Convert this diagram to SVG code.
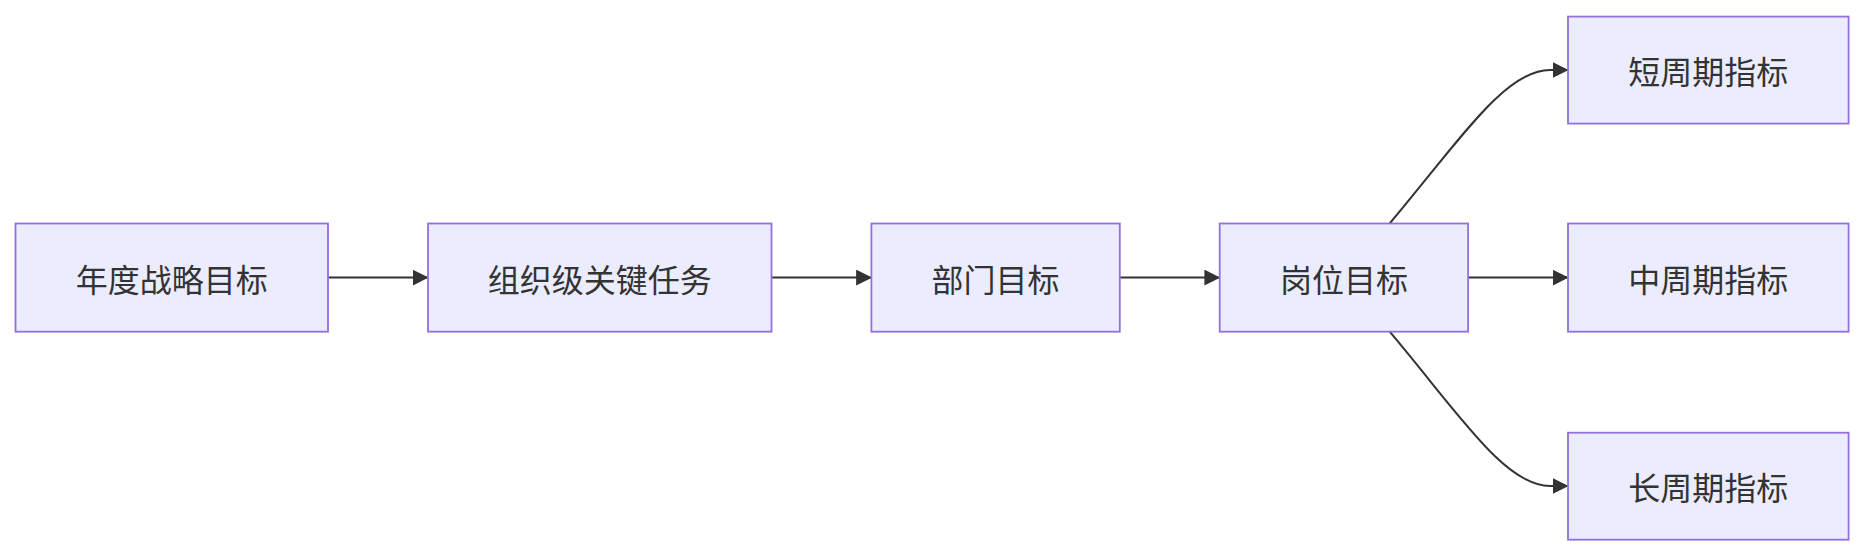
<svg xmlns="http://www.w3.org/2000/svg" width="1864" height="556" viewBox="0 0 1864 556">
<style>
.n rect{fill:#ECECFF;stroke:#9370DB;stroke-width:1.8}
.n text{font-family:"Noto Sans CJK SC","Liberation Sans",sans-serif;font-size:32px;fill:#333;text-anchor:middle;dominant-baseline:central}
.e path{fill:none;stroke:#333;stroke-width:2;marker-end:url(#ah)}
</style>
<defs><marker id="ah" viewBox="0 0 10 10" refX="9" refY="5" markerWidth="16" markerHeight="16" markerUnits="userSpaceOnUse" orient="auto"><path d="M0,0L10,5L0,10z" fill="#333"/></marker></defs>
<rect width="1864" height="556" fill="#fff"/>
<g id="edges" class="e">
<path d="M328,277.6H427"/>
<path d="M771.5,277.6H870.5"/>
<path d="M1119.8,277.6H1218.8"/>
<path d="M1468.1,277.6H1567"/>
<path d="M1389.7,223.5C1460,140 1505,70 1550,70H1567"/>
<path d="M1389.7,331.7C1460,415 1505,486 1550,486H1567"/>
</g>
<g id="n1" class="n"><rect x="15.5" y="223.5" width="312.5" height="108.2"/><text x="171.7" y="277.6">年度战略目标</text></g>
<g id="n2" class="n"><rect x="428" y="223.5" width="343.5" height="108.2"/><text x="599.7" y="277.6">组织级关键任务</text></g>
<g id="n3" class="n"><rect x="871.4" y="223.5" width="248.4" height="108.2"/><text x="995.6" y="277.6">部门目标</text></g>
<g id="n4" class="n"><rect x="1219.7" y="223.5" width="248.4" height="108.2"/><text x="1343.9" y="277.6">岗位目标</text></g>
<g id="n5" class="n"><rect x="1568" y="16.6" width="280.6" height="107"/><text x="1708.3" y="70">短周期指标</text></g>
<g id="n6" class="n"><rect x="1568" y="223.5" width="280.6" height="108.2"/><text x="1708.3" y="277.6">中周期指标</text></g>
<g id="n7" class="n"><rect x="1568" y="432.7" width="280.6" height="107"/><text x="1708.3" y="486">长周期指标</text></g>
</svg>
